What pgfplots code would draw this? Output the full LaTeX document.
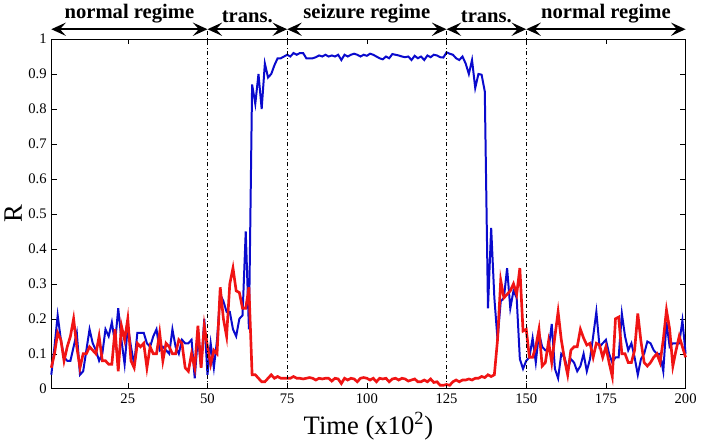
\documentclass[border=0pt]{standalone}
\usepackage{fontspec}
\setmainfont{Liberation Serif}
\usepackage{pgfplots}
\pgfplotsset{compat=1.18}
\usetikzlibrary{arrows.meta}

\definecolor{rblue}{RGB}{10,10,205}
\definecolor{rred}{RGB}{240,20,20}

\pgfplotstableread{
x b r
1 0.04 0.06
2 0.12 0.10
3 0.21 0.16
4 0.14 0.14
5 0.09 0.08
6 0.08 0.12
7 0.08 0.15
8 0.12 0.20
9 0.16 0.12
10 0.04 0.06
11 0.05 0.10
12 0.11 0.10
13 0.17 0.12
14 0.13 0.11
15 0.11 0.10
16 0.08 0.15
17 0.10 0.08
18 0.17 0.08
19 0.15 0.07
20 0.19 0.07
21 0.13 0.17
22 0.23 0.05
23 0.14 0.18
24 0.07 0.14
25 0.18 0.20
26 0.12 0.08
27 0.07 0.06
28 0.16 0.13
29 0.16 0.12
30 0.16 0.13
31 0.13 0.06
32 0.12 0.12
33 0.15 0.10
34 0.17 0.10
35 0.11 0.16
36 0.12 0.08
37 0.11 0.13
38 0.10 0.12
39 0.17 0.10
40 0.12 0.10
41 0.10 0.14
42 0.14 0.13
43 0.13 0.06
44 0.13 0.05
45 0.14 0.10
46 0.03 0.06
47 0.15 0.18
48 0.06 0.06
49 0.20 0.18
50 0.04 0.12
51 0.13 0.07
52 0.06 0.11
53 0.14 0.10
54 0.27 0.29
55 0.25 0.20
56 0.22 0.15
57 0.22 0.30
58 0.17 0.345
59 0.15 0.28
60 0.20 0.275
61 0.21 0.23
62 0.45 0.23
63 0.17 0.29
64 0.87 0.04
65 0.815 0.04
66 0.90 0.03
67 0.80 0.02
68 0.93 0.02
69 0.89 0.03
70 0.90 0.04
71 0.925 0.03
72 0.945 0.035
73 0.945 0.03
74 0.95 0.03
75 0.955 0.03
76 0.95 0.03
77 0.96 0.035
78 0.955 0.03
79 0.96 0.03
80 0.96 0.028
81 0.945 0.03
82 0.945 0.032
83 0.945 0.03
84 0.948 0.025
85 0.953 0.03
86 0.95 0.028
87 0.955 0.03
88 0.95 0.03
89 0.953 0.022
90 0.95 0.03
91 0.955 0.028
92 0.94 0.015
93 0.955 0.03
94 0.95 0.025
95 0.955 0.03
96 0.958 0.028
97 0.955 0.02
98 0.95 0.03
99 0.955 0.032
100 0.952 0.03
101 0.958 0.025
102 0.955 0.03
103 0.95 0.02
104 0.945 0.03
105 0.942 0.028
106 0.95 0.03
107 0.945 0.02
108 0.957 0.028
109 0.955 0.03
110 0.953 0.025
111 0.95 0.03
112 0.948 0.028
113 0.95 0.022
114 0.94 0.025
115 0.952 0.028
116 0.945 0.02
117 0.95 0.02
118 0.94 0.025
119 0.953 0.02
120 0.948 0.028
121 0.955 0.018
122 0.953 0.02
123 0.948 0.01
124 0.947 0.01
125 0.962 0.012
126 0.958 0.01
127 0.955 0.02
128 0.945 0.025
129 0.94 0.02
130 0.95 0.025
131 0.93 0.025
132 0.90 0.028
133 0.94 0.025
134 0.86 0.03
135 0.90 0.03
136 0.898 0.035
137 0.85 0.032
138 0.23 0.04
139 0.46 0.035
140 0.26 0.04
141 0.14 0.14
142 0.25 0.31
143 0.26 0.26
144 0.345 0.27
145 0.23 0.28
146 0.28 0.30
147 0.26 0.27
148 0.085 0.345
149 0.057 0.165
150 0.08 0.17
151 0.09 0.09
152 0.145 0.09
153 0.075 0.12
154 0.16 0.17
155 0.12 0.065
156 0.11 0.075
157 0.11 0.135
158 0.185 0.075
159 0.057 0.15
160 0.03 0.22
161 0.10 0.14
162 0.09 0.085
163 0.055 0.04
164 0.085 0.11
165 0.075 0.12
166 0.05 0.12
167 0.065 0.17
168 0.10 0.145
169 0.05 0.125
170 0.085 0.13
171 0.15 0.09
172 0.22 0.13
173 0.12 0.125
174 0.13 0.09
175 0.14 0.12
176 0.10 0.075
177 0.075 0.035
178 0.09 0.20
179 0.09 0.205
180 0.215 0.10
181 0.15 0.10
182 0.11 0.075
183 0.13 0.075
184 0.09 0.11
185 0.04 0.215
186 0.085 0.135
187 0.10 0.075
188 0.135 0.065
189 0.13 0.075
190 0.11 0.09
191 0.10 0.10
192 0.10 0.075
193 0.05 0.14
194 0.19 0.225
195 0.12 0.17
196 0.13 0.065
197 0.13 0.11
198 0.13 0.15
199 0.195 0.12
200 0.10 0.09
}\datatable

\tikzset{
  regarrow/.style={line width=1.3pt, {Stealth[length=11pt,width=10pt,inset=4.5pt]}-{Stealth[length=11pt,width=10pt,inset=4.5pt]}},
  reglabel/.style={midway, above=0.5pt, font=\fontsize{15.5}{17}\selectfont\bfseries},
  sepline/.style={black, line width=0.6pt, dash dot},
}

\begin{document}
\begin{tikzpicture}
\begin{axis}[
    scale only axis,
    width=477pt,
    height=263pt,
    xmin=1, xmax=200,
    ymin=0, ymax=1,
    xtick={25,50,...,200},
    ytick={0,0.1,...,1},
    yticklabels={0,0.1,0.2,0.3,0.4,0.5,0.6,0.7,0.8,0.9,1},
    tick align=inside,
    major tick length=4pt,
    tick style={black, line width=0.4pt},
    axis line style={black, line width=0.5pt},
    ticklabel style={font=\fontsize{11}{12}\selectfont},
    /pgf/number format/assume math mode=true,
    xlabel={Time (x10\textsuperscript{2})},
    ylabel={R},
    xlabel style={font=\fontsize{20}{22}\selectfont},
    ylabel style={font=\fontsize{20}{22}\selectfont, yshift=-2pt},
    clip=false,
]
\addplot[rblue, line width=1.5pt] table[x=x, y=b] {\datatable};
\addplot[rred, line width=2pt] table[x=x, y=r] {\datatable};
\draw[sepline] (axis cs:50,0) -- (axis cs:50,1.028);
\draw[sepline] (axis cs:75,0) -- (axis cs:75,1.028);
\draw[sepline] (axis cs:125,0) -- (axis cs:125,1.028);
\draw[sepline] (axis cs:150,0) -- (axis cs:150,1.028);
\draw[regarrow] (axis cs:1,1.028) -- (axis cs:50,1.028) node[reglabel] {normal regime};
\draw[regarrow] (axis cs:50,1.028) -- (axis cs:75,1.028) node[reglabel] {trans.};
\draw[regarrow] (axis cs:75,1.028) -- (axis cs:125,1.028) node[reglabel] {seizure regime};
\draw[regarrow] (axis cs:125,1.028) -- (axis cs:150,1.028) node[reglabel] {trans.};
\draw[regarrow] (axis cs:150,1.028) -- (axis cs:200,1.028) node[reglabel] {normal regime};
\end{axis}
\end{tikzpicture}
\end{document}
